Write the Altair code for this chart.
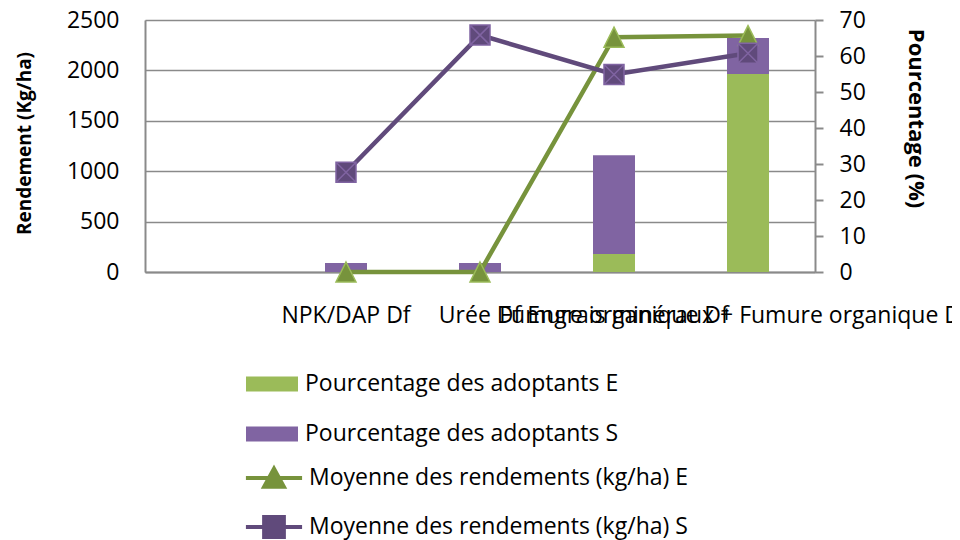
import altair as alt
import pandas as pd

categories = ["", "NPK/DAP Df", "Urée Df", "Fumure organique Df",
              "Engrais minéraux + Fumure organique Df"]
pct_E = [None, 0, 0, 5, 55]
pct_S = [None, 2.5, 2.5, 27.4, 10]
rend_E = [None, 0, 0, 2330, 2345]
rend_S = [None, 990, 2350, 1960, 2170]

s_pE = "Pourcentage des adoptants E"
s_pS = "Pourcentage des adoptants S"
s_rE = "Moyenne des rendements (kg/ha) E"
s_rS = "Moyenne des rendements (kg/ha) S"
bar_colors = ["#9BBB59", "#8064A2"]
line_colors = ["#77933C", "#604A7B"]
marker_edges = ["#9BBB59", "#8064A2"]

bar_rows = []
for i, c in enumerate(categories):
    if pct_E[i] is not None:
        bar_rows.append({"cat": c, "series": s_pE, "value": pct_E[i], "ord": 0})
    if pct_S[i] is not None:
        bar_rows.append({"cat": c, "series": s_pS, "value": pct_S[i], "ord": 1})
bars_df = pd.DataFrame(bar_rows)

line_rows = []
for i, c in enumerate(categories):
    if rend_E[i] is not None:
        line_rows.append({"cat": c, "series": s_rE, "value": rend_E[i]})
    if rend_S[i] is not None:
        line_rows.append({"cat": c, "series": s_rS, "value": rend_S[i]})
lines_df = pd.DataFrame(line_rows)

FONT = "Open Sans"
GRAY = "#8a8a8a"

TRI = "M0,-1L1,1L-1,1Z"
SQX = "M-1,-1H1V1H-1Z M-1,-1L1,1 M1,-1L-1,1"

LEG_BAR = "M-1,-0.29H1V0.29H-1Z"
LEG_TRI = "M-1.08,0H1.08 M0,-0.36L0.38,0.34L-0.38,0.34Z"
LEG_SQ = "M-1.08,0H1.08 M-0.38,-0.38H0.38V0.38H-0.38Z"

bar_legend = alt.Legend(
    title=None, orient="none", legendX=101, legendY=338, direction="vertical",
    labelFont=FONT, labelFontSize=23, labelColor="#000000", labelLimit=1000,
    symbolType=LEG_BAR, symbolSize=2704, symbolStrokeWidth=0, symbolOpacity=1,
    labelOffset=7, rowPadding=12, padding=0,
)

line_legend = alt.Legend(
    title=None, orient="none", legendX=101, legendY=430, direction="vertical",
    labelFont=FONT, labelFontSize=23, labelColor="#000000", labelLimit=1000,
    symbolSize=2704, symbolStrokeWidth=4, symbolOpacity=1,
    labelOffset=7, rowPadding=4, padding=0,
)

x_enc = alt.X("cat:N", sort=None,
              scale=alt.Scale(domain=categories, paddingInner=0, paddingOuter=0),
              axis=alt.Axis(title=None, labelAngle=0, labelOverlap=False,
                            labelLimit=1000, ticks=False, tickSize=0,
                            labelPadding=32, domainColor=GRAY, domainWidth=2,
                            labelFont=FONT, labelFontSize=23, labelColor="#000000"))

bars = alt.Chart(bars_df).mark_bar(size=42).encode(
    x=x_enc,
    y=alt.Y("value:Q", stack="zero",
            scale=alt.Scale(domain=[0, 70], nice=False),
            axis=alt.Axis(orient="right", values=list(range(0, 71, 10)), format="d",
                          title="Pourcentage (%)", grid=False,
                          ticks=True, tickSize=8, tickColor=GRAY, tickWidth=2,
                          labelPadding=16, domainColor=GRAY, domainWidth=2,
                          labelFont=FONT, labelFontSize=23, labelColor="#000000",
                          titleFont=FONT, titleFontSize=22, titleFontWeight="bold",
                          titleColor="#000000", titleAngle=90, titleBaseline="middle",
                          titleX=100, titleY=98)),
    color=alt.Color("series:N",
                    scale=alt.Scale(domain=[s_pE, s_pS], range=bar_colors),
                    legend=bar_legend),
    order=alt.Order("ord:Q"),
)

y_left = alt.Y("value:Q", scale=alt.Scale(domain=[0, 2500], nice=False),
               axis=alt.Axis(orient="left", values=list(range(0, 2501, 500)), format="d",
                             title="Rendement (Kg/ha)", grid=True,
                             gridColor=GRAY, gridWidth=1.5,
                             ticks=False, tickSize=0, labelPadding=26,
                             domainColor=GRAY, domainWidth=2,
                             labelFont=FONT, labelFontSize=23, labelColor="#000000",
                             titleFont=FONT, titleFontSize=19, titleFontWeight="bold",
                             titleColor="#000000", titleAngle=270,
                             titleBaseline="middle", titleX=-121, titleY=123))

line_E = alt.Chart(lines_df).transform_filter(alt.datum.series == s_rE).mark_line(
    strokeWidth=4.5, color=line_colors[0]).encode(x=x_enc, y=y_left)
line_S = alt.Chart(lines_df).transform_filter(alt.datum.series == s_rS).mark_line(
    strokeWidth=4.5, color=line_colors[1]).encode(x=x_enc, y=y_left)

pts_E = alt.Chart(lines_df).transform_filter(
    alt.datum.series == s_rE
).mark_point(shape=TRI, size=400, filled=True, fill=line_colors[0],
             stroke=marker_edges[0], strokeWidth=1.5, opacity=1).encode(x=x_enc, y=y_left)

pts_S = alt.Chart(lines_df).transform_filter(
    alt.datum.series == s_rS
).mark_point(shape=SQX, size=400, filled=True, fill=line_colors[1],
             stroke=marker_edges[1], strokeWidth=1.5, opacity=1).encode(x=x_enc, y=y_left)

leg_scale_dom = [s_rE, s_rS]
legend_pts = alt.Chart(lines_df).transform_filter("false").mark_point(
    size=2704, strokeWidth=4, opacity=1, filled=True
).encode(
    x=x_enc, y=y_left,
    fill=alt.Fill("series:N", scale=alt.Scale(domain=leg_scale_dom, range=line_colors),
                  legend=line_legend),
    stroke=alt.Stroke("series:N", scale=alt.Scale(domain=leg_scale_dom, range=line_colors),
                      legend=line_legend),
    shape=alt.Shape("series:N", scale=alt.Scale(domain=leg_scale_dom, range=[LEG_TRI, LEG_SQ]),
                    legend=line_legend),
)

line_layer = alt.layer(line_E, line_S, pts_E, pts_S, legend_pts)

chart = alt.layer(bars, line_layer).resolve_scale(y="independent").properties(
    width=670, height=252,
    autosize=alt.AutoSizeParams(type="none"),
    padding={"left": 137, "top": 12, "right": 137, "bottom": 268},
).configure_view(stroke=None).configure(background="white")

chart.save("out.html", embed_options={"renderer": "svg", "actions": False})
